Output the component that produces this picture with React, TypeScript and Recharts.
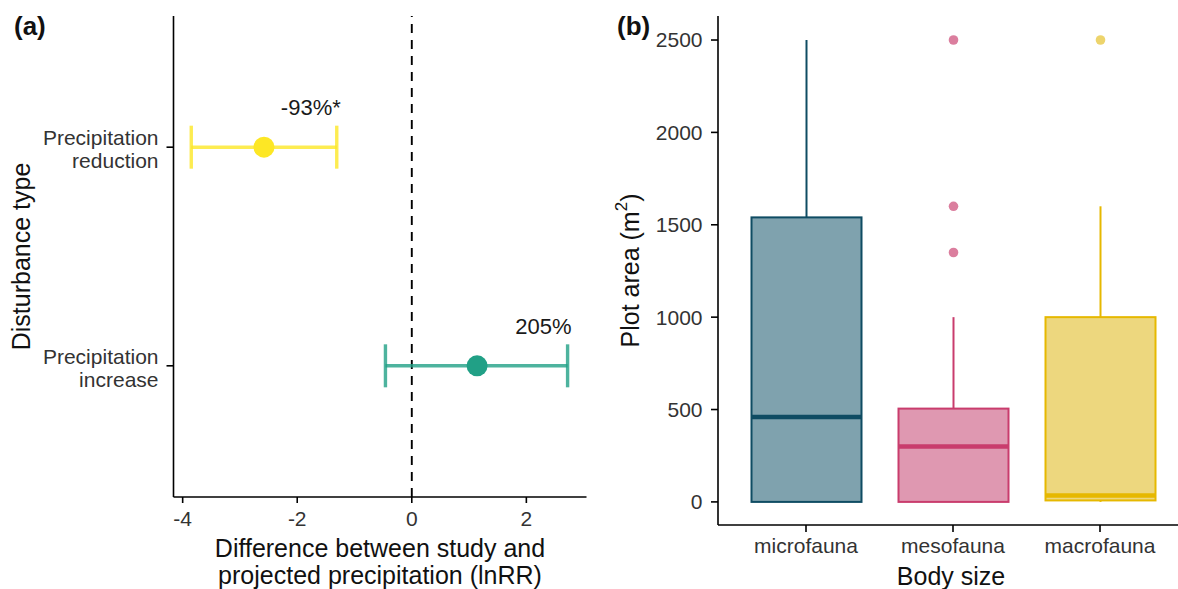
import { ScatterChart, Scatter, XAxis, YAxis, ErrorBar, ReferenceLine, ComposedChart, Bar } from 'recharts';

const FONT = '"Liberation Sans", Arial, Helvetica, sans-serif';

// (a) disturbance effect sizes (lnRR)
const disturbances = ['Precipitation increase', 'Precipitation reduction'];
const effectMean = [1.14, -2.58];
const effectLow = [-0.46, -3.85];
const effectHigh = [2.72, -1.31];
const effectLabels = ['205%', '-93%*'];
const lnrrTicks = [-4, -2, 0, 2];

// (b) plot area by body size
const bodySizes = ['microfauna', 'mesofauna', 'macrofauna'];
const areaMin = [0, 0, 0];
const areaQ1 = [0, 0, 8];
const areaMedian = [460, 300, 35];
const areaQ3 = [1540, 505, 1000];
const areaMax = [2500, 1000, 1600];
const areaOutliers = [[], [1350, 1600, 2500], [2500]];
const areaTicks = [0, 500, 1000, 1500, 2000, 2500];

const DIST_COLORS = ['#21A086', '#FDE725'];
const BOX_STROKE = ['#0F4C63', '#C93C6D', '#E6B800'];
const BOX_FILL = ['#7FA2AE', '#DF98B1', '#EDD77E'];
const OUTLIER_FILL = ['#7FA2AE', '#DB7E9E', '#EDD46C'];

const TICK_SIZE = 21;
const TITLE_SIZE = 25;

function DisturbanceTick({ x, y, payload }: any) {
  const lines = disturbances[payload.value].split(' ');
  return (
    <text x={x} y={y} textAnchor="end" fontSize={TICK_SIZE} fill="#333" fontFamily={FONT}>
      {lines.map((l, i) => (
        <tspan key={i} x={x} dy={i === 0 ? -2 : 23}>{l}</tspan>
      ))}
    </text>
  );
}

function BoxShape(props: any) {
  const { x, y, width, height, payload } = props;
  const i = bodySizes.indexOf(payload.name);
  const span = payload.max - payload.min;
  const toY = (v: number) => y + ((payload.max - v) / span) * height;
  const cx = x + width / 2;
  const stroke = BOX_STROKE[i];
  return (
    <g>
      <line x1={cx} x2={cx} y1={toY(payload.max)} y2={toY(payload.q3)} stroke={stroke} strokeWidth={2} />
      <line x1={cx} x2={cx} y1={toY(payload.q1)} y2={toY(payload.min)} stroke={stroke} strokeWidth={2} />
      <rect x={x} y={toY(payload.q3)} width={width} height={toY(payload.q1) - toY(payload.q3)} fill={BOX_FILL[i]} stroke={stroke} strokeWidth={2} />
      <line x1={x} x2={x + width} y1={toY(payload.median)} y2={toY(payload.median)} stroke={stroke} strokeWidth={4.5} />
      {payload.outliers.map((o: number, k: number) => (
        <circle key={k} cx={cx} cy={toY(o)} r={4.8} fill={OUTLIER_FILL[i]} />
      ))}
    </g>
  );
}

export default function App() {
  const rows = disturbances.map((name, i) => ({
    name,
    x: effectMean[i],
    y: i,
    err: [effectMean[i] - effectLow[i], effectHigh[i] - effectMean[i]],
  }));
  const labelRows = disturbances.map((name, i) => ({ x: effectHigh[i], y: i, label: effectLabels[i] }));
  const boxRows = bodySizes.map((name, i) => ({
    name,
    min: areaMin[i],
    q1: areaQ1[i],
    median: areaMedian[i],
    q3: areaQ3[i],
    max: areaMax[i],
    outliers: areaOutliers[i],
  }));

  const axisLine = { stroke: '#000', strokeWidth: 1.6 };

  return (
    <div style={{ position: 'absolute', left: 0, top: 0, width: 1178, height: 589, overflow: 'hidden', background: '#fff', fontFamily: FONT }}>
      <div style={{ position: 'absolute', left: 0, top: 0 }}>
        <ScatterChart width={600} height={589} margin={{ top: 16, right: 13.5, bottom: 0, left: 0 }}>
          <XAxis
            type="number"
            dataKey="x"
            domain={[-4.16, 3.05]}
            ticks={lnrrTicks}
            allowDataOverflow
            height={92}
            tickSize={6}
            tickMargin={8}
            axisLine={axisLine}
            tickLine={{ stroke: '#000', strokeWidth: 1.6 }}
            tick={{ fontSize: TICK_SIZE, fill: '#333', fontFamily: FONT }}
            label={(p: any) => {
              const vb = p.viewBox;
              const cx = vb.x + vb.width / 2;
              return (
                <text textAnchor="middle" fontSize={TITLE_SIZE} fill="#111" fontFamily={FONT}>
                  <tspan x={cx} y={vb.y + 60}>Difference between study and</tspan>
                  <tspan x={cx} y={vb.y + 87}>projected precipitation (lnRR)</tspan>
                </text>
              );
            }}
          />
          <YAxis
            type="number"
            dataKey="y"
            domain={[-0.6, 1.6]}
            ticks={[0, 1]}
            allowDataOverflow
            width={173.5}
            tickSize={7}
            tickMargin={8}
            axisLine={axisLine}
            tickLine={{ stroke: '#000', strokeWidth: 1.6 }}
            tick={<DisturbanceTick />}
            label={(p: any) => {
              const vb = p.viewBox;
              const cx = vb.x + 21;
              const cy = vb.y + vb.height / 2;
              return (
                <text x={cx} y={cy} transform={`rotate(-90, ${cx}, ${cy})`} textAnchor="middle" dominantBaseline="central" fontSize={TITLE_SIZE} fill="#111" fontFamily={FONT}>
                  Disturbance type
                </text>
              );
            }}
          />
          <ReferenceLine x={0} stroke="#000" strokeWidth={1.9} strokeDasharray="9 7" />
          {rows.map((r, i) => (
            <Scatter
              key={r.name}
              data={[r]}
              isAnimationActive={false}
              shape={(p: any) => <circle cx={p.cx} cy={p.cy} r={10.5} fill={DIST_COLORS[i]} />}
            >
              <ErrorBar dataKey="err" direction="x" width={21.5} stroke={DIST_COLORS[i]} strokeOpacity={0.8} strokeWidth={3.4} isAnimationActive={false} />
            </Scatter>
          ))}
          <Scatter
            data={labelRows}
            isAnimationActive={false}
            shape={(p: any) => (
              <text x={p.cx + 4} y={p.cy - 32} textAnchor="end" fontSize={22} fill="#1a1a1a" fontFamily={FONT}>
                {p.payload.label}
              </text>
            )}
          />
        </ScatterChart>
      </div>

      <div style={{ position: 'absolute', left: 600, top: 0 }}>
        <ComposedChart width={600} height={589} data={boxRows} margin={{ top: 16, right: 12, bottom: 0, left: 0 }}>
          <XAxis
            type="category"
            dataKey="name"
            height={64}
            padding={{ left: 14.5, right: 14.5 }}
            tickSize={7}
            tickMargin={6}
            axisLine={axisLine}
            tickLine={{ stroke: '#000', strokeWidth: 1.6 }}
            tick={{ fontSize: TICK_SIZE, fill: '#333', fontFamily: FONT }}
            label={(p: any) => {
              const vb = p.viewBox;
              return (
                <text x={vb.x + vb.width / 2 - 2} y={vb.y + 60} textAnchor="middle" fontSize={TITLE_SIZE} fill="#111" fontFamily={FONT}>
                  Body size
                </text>
              );
            }}
          />
          <YAxis
            type="number"
            domain={[-125, 2630]}
            ticks={areaTicks}
            allowDataOverflow
            width={118}
            tickSize={7}
            tickMargin={8.5}
            axisLine={axisLine}
            tickLine={{ stroke: '#000', strokeWidth: 1.6 }}
            tick={{ fontSize: TICK_SIZE, fill: '#333', fontFamily: FONT }}
            label={(p: any) => {
              const vb = p.viewBox;
              const cx = vb.x + 30;
              const cy = vb.y + vb.height / 2;
              return (
                <text x={cx} y={cy} transform={`rotate(-90, ${cx}, ${cy})`} textAnchor="middle" dominantBaseline="central" fontSize={TITLE_SIZE} fill="#111" fontFamily={FONT}>
                  Plot area (m<tspan dy={-9} fontSize={17}>2</tspan><tspan dy={9}>)</tspan>
                </text>
              );
            }}
          />
          <Bar
            dataKey={(d: any) => [d.min, d.max]}
            barSize={110}
            isAnimationActive={false}
            shape={<BoxShape />}
          />
        </ComposedChart>
      </div>

      <div style={{ position: 'absolute', left: 14, top: 12, fontSize: 26, fontWeight: 'bold', lineHeight: '28px', color: '#111' }}>(a)</div>
      <div style={{ position: 'absolute', left: 617, top: 12, fontSize: 26, fontWeight: 'bold', lineHeight: '28px', color: '#111' }}>(b)</div>
    </div>
  );
}
